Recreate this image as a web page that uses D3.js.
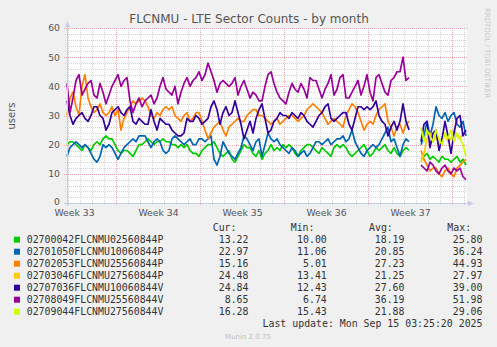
<!DOCTYPE html>
<html><head><meta charset="utf-8">
<script src="https://cdn.jsdelivr.net/npm/d3@7"></script>
<style>
html,body{margin:0;padding:0;background:#F0F0F0;}
svg{display:block;}
</style></head><body>
<svg id="chart" width="497" height="347"></svg>
<script>
// ---------- data ----------
const seriesNames = ["02700042FLCNMU02560844P","02701050FLCNMU10060844P","02702053FLCNMU25560844P","02703046FLCNMU27560844P","02707036FLCNMU10060844V","02708049FLCNMU25560844V","02709044FLCNMU27560844V"];
const seriesColors = ["#00CC00","#0066B3","#FF8000","#FFCC00","#330099","#990099","#CCFF00"];
const curValues = ["13.22","22.97","15.16","24.48","24.84","8.65","16.28"];
const minValues = ["10.00","11.06","5.01","13.41","12.43","6.74","15.43"];
const avgValues = ["18.19","20.85","27.23","21.25","27.60","36.19","21.88"];
const maxValues = ["25.80","36.24","44.93","27.97","39.00","51.98","29.06"];
const yTicks = [0,10,20,30,40,50,60];
const weekLabels = ["Week 33","Week 34","Week 35","Week 36","Week 37"];
const weekStarts = ["2025-08-11","2025-08-18","2025-08-25","2025-09-01","2025-09-08"];
const viewStart = "2025-08-13T22:00:00Z";
const viewEnd = "2025-09-16T06:00:00Z";
const stepHours = 6;          // sample spacing
const segBStartIndex = 118;   // first sample after the data gap

// first period (samples 0..114)
const greenA = [20,21,21,20,19,18,20,19,18,20, 21,20,22,23,22,22,20,18,17,18, 18,17,16,18,20,20,21,22,21,20, 21,21,22,21,21,20,20,19,20,19, 20,18,17,17,16,18,19,20,20,21, 19,17,16,17,18,15,14,16,18,20, 19,19,17,16,18,15,17,18,20,18, 19,18,20,19,20,19,17,16,18,19, 20,20,19,18,17,19,18,17,16,19, 20,19,20,19,17,16,17,18,19,20, 18,16,17,19,18,19,20,18,17,19, 17,16,18,19,18];
const blueA = [16,19,20,21,20,19,20,19,17,15, 14,16,20,19,20,19,17,15,17,19, 20,21,22,21,23,23,23,21,19,21, 22,21,18,17,18,22,23,22,21,20, 21,22,20,20,22,22,21,22,23,15, 13,16,21,19,17,16,15,17,19,23, 22,20,18,21,22,16,20,24,22,21, 22,20,19,18,17,19,18,16,17,18, 16,17,19,21,21,20,21,22,20,21, 22,22,23,21,22,25,21,19,17,16, 18,19,20,19,20,22,24,26,21,22, 19,16,20,22,21];
const orangeA = [30,36,38,33,30,40,44,36,33,31, 32,34,31,30,31,33,30,32,25,29, 31,33,35,34,35,36,35,33,30,29, 31,30,32,33,32,33,30,29,28,30, 31,28,29,31,31,28,25,22,24,26, 27,28,25,23,26,27,28,29,28,28, 30,31,32,32,30,30,29,28,27,28, 29,27,28,29,30,30,29,28,29,30, 32,33,34,33,32,31,29,27,28,29, 28,27,26,30,32,34,33,31,28,25, 27,28,27,30,32,33,34,28,26,23, 26,27,24,27,28];
const yellowA = [];
const indigoA = [35,30,27,29,30,31,29,28,30,33, 33,30,29,25,27,31,32,33,31,30, 32,33,28,27,29,28,27,27,32,28, 25,29,28,27,27,25,24,23,23,24, 29,28,28,30,29,27,28,29,33,35, 32,27,31,33,30,31,35,31,27,22, 25,28,24,29,32,34,29,24,25,28, 29,31,30,30,29,31,30,29,31,30, 28,27,26,28,30,31,33,34,29,28, 29,30,31,31,27,25,29,33,33,32, 33,32,33,35,30,28,27,23,26,28, 25,28,34,28,25];
const purpleA = [41,31,36,42,44,37,39,41,42,37, 36,41,38,34,37,40,42,44,40,42, 43,35,31,34,36,33,35,36,37,34, 36,40,43,39,38,37,40,34,38,41, 43,40,42,43,45,42,44,48,45,42, 38,41,42,41,40,41,43,37,40,42, 39,36,38,37,35,35,40,44,45,41, 38,36,35,34,38,41,39,38,41,39, 36,43,42,42,39,36,39,41,44,37, 39,43,44,36,36,38,40,42,37,40, 44,38,35,43,44,41,38,37,42,43, 45,45,50,42,43];
const limeA = [];

// second period (after the gap)
const greenB  = [15,16,17,15,16,15,14,16,15,15,14,15,16,14,15,13];
const blueB   = [20,23,28,23,27,33,30,29,31,28,30,31,27,26,28,23];
const orangeB = [18,15,13,11,12,12,10,9,11,12,10,9,12,13,14,15];
const yellowB = [14,17,22,24,21,23,20,22,24,21,22,25,23,22,24,24];
const indigoB = [21,27,28,19,24,25,18,22,28,23,17,24,29,30,23,25];
const purpleB = [13,12,11,14,13,11,10,12,13,11,10,12,11,12,9,8];
const limeB   = [26,21,25,23,21,25,22,20,24,22,25,21,24,22,20,16];

const periodA = [greenA, blueA, orangeA, yellowA, indigoA, purpleA, limeA];
const periodB = [greenB, blueB, orangeB, yellowB, indigoB, purpleB, limeB];

// ---------- drawing ----------
const svg = d3.select("#chart");
const plot = {left:67, top:28, right:467, bottom:203};
const t0 = new Date(viewStart);
const x = d3.scaleUtc().domain([t0, new Date(viewEnd)]).range([plot.left, plot.right]);
const y = d3.scaleLinear().domain([0,60]).range([plot.bottom, plot.top]);
const sampleTime = i => new Date(+t0 + i*stepHours*3600*1000);

svg.append("rect").attr("width",497).attr("height",347).attr("fill","#F0F0F0");
svg.append("rect").attr("x",plot.left).attr("y",plot.top)
  .attr("width",plot.right-plot.left).attr("height",plot.bottom-plot.top).attr("fill","#FFFFFF");

const grid = svg.append("g").attr("shape-rendering","crispEdges");
const minorCol = "#d4d4d4", majorCol = "#eeaaaa";
// minor vertical grid (days)
const days = d3.utcDay.range(x.domain()[0], x.domain()[1]);
const mondays = d3.utcMonday.range(x.domain()[0], x.domain()[1]);
const mondaySet = new Set(mondays.map(d=>+d));
grid.selectAll(".vmin").data(days.filter(d=>!mondaySet.has(+d))).join("line")
  .attr("x1",d=>Math.round(x(d))+0.5).attr("x2",d=>Math.round(x(d))+0.5)
  .attr("y1",plot.top).attr("y2",plot.bottom+2)
  .attr("stroke",minorCol).attr("stroke-dasharray","1,1");
// minor horizontal grid
const minorY = d3.range(2,60,2).filter(v=>v%10!==0);
grid.selectAll(".hmin").data(minorY).join("line")
  .attr("x1",plot.left-2).attr("x2",plot.right)
  .attr("y1",d=>Math.round(y(d))+0.5).attr("y2",d=>Math.round(y(d))+0.5)
  .attr("stroke",minorCol).attr("stroke-dasharray","1,1");
// major grid
grid.selectAll(".vmaj").data(mondays).join("line")
  .attr("x1",d=>Math.round(x(d))+0.5).attr("x2",d=>Math.round(x(d))+0.5)
  .attr("y1",plot.top).attr("y2",plot.bottom+3)
  .attr("stroke",majorCol).attr("stroke-dasharray","1,1");
grid.selectAll(".hmaj").data(yTicks.filter(v=>v>0)).join("line")
  .attr("x1",plot.left-3).attr("x2",plot.right)
  .attr("y1",d=>Math.round(y(d))+0.5).attr("y2",d=>Math.round(y(d))+0.5)
  .attr("stroke",majorCol).attr("stroke-dasharray","1,1");

// series lines
const line = d3.line().defined(d=>d.v!=null).x(d=>x(d.t)).y(d=>y(d.v));
seriesNames.forEach((name,k)=>{
  const pts = [];
  periodA[k].forEach((v,i)=>pts.push({t:sampleTime(i), v}));
  pts.push({t:sampleTime(periodA[k].length), v:null});
  periodB[k].forEach((v,i)=>pts.push({t:sampleTime(segBStartIndex+i), v}));
  svg.append("path").datum(pts).attr("d",line)
    .attr("fill","none").attr("stroke",seriesColors[k])
    .attr("stroke-width",1.7).attr("stroke-linejoin","round");
});

// axes (rrdtool style with arrows)
const axisCol = "#c6cdec";
const yAxis = d3.axisLeft(y).tickValues(yTicks).tickSize(0).tickPadding(7);
const gy = svg.append("g").attr("transform",`translate(${plot.left},0)`).call(yAxis);
gy.select(".domain").remove();
gy.selectAll("text").attr("font-family","DejaVu Sans").attr("font-size","9.3px").attr("fill","#555")
  .attr("dy",d=>d===0?"0.2em":"0.32em");

const weekMid = weekStarts.map(s=>new Date(+new Date(s+"T00:00:00Z") + 3.5*86400000));
const xAxis = d3.axisBottom(x).tickValues(weekMid).tickFormat((d,i)=>weekLabels[i]).tickSize(0).tickPadding(6);
const gx = svg.append("g").attr("transform",`translate(0,${plot.bottom})`).call(xAxis);
gx.select(".domain").remove();
gx.selectAll("text").attr("font-family","DejaVu Sans").attr("font-size","9.3px").attr("fill","#555")
  .attr("dy","0.78em");

svg.append("line").attr("x1",plot.left+0.5).attr("x2",plot.left+0.5).attr("y1",plot.bottom+3).attr("y2",plot.top-4)
  .attr("stroke",axisCol).attr("shape-rendering","crispEdges");
svg.append("path").attr("d",`M${plot.left-2},${plot.top-1}L${plot.left+3},${plot.top-1}L${plot.left+0.5},${plot.top-7}Z`).attr("fill",axisCol);
svg.append("line").attr("x1",plot.left-3).attr("x2",plot.right+3).attr("y1",plot.bottom+0.5).attr("y2",plot.bottom+0.5)
  .attr("stroke",axisCol).attr("shape-rendering","crispEdges");
svg.append("path").attr("d",`M${plot.right+1},${plot.bottom-2}L${plot.right+1},${plot.bottom+3}L${plot.right+7},${plot.bottom+0.5}Z`).attr("fill",axisCol);

// title and labels
svg.append("text").attr("x",249).attr("y",23).attr("text-anchor","middle")
  .attr("font-family","DejaVu Sans").attr("font-size","12px").attr("fill","#555")
  .text("FLCNMU - LTE Sector Counts - by month");
svg.append("text").attr("transform","translate(15,116) rotate(-90)").attr("text-anchor","middle")
  .attr("font-family","DejaVu Sans").attr("font-size","10px").attr("fill","#555").text("users");
svg.append("text").attr("transform","translate(485,53) rotate(90)").attr("text-anchor","middle")
  .attr("font-family","DejaVu Sans").attr("font-size","7px").attr("fill","#c8c8c8").text("RRDTOOL / TOBI OETIKER");

// legend
const mono = "DejaVu Sans Mono";
const lg = svg.append("g").attr("font-family",mono).attr("font-size","9.9px").attr("fill","#333");
const headerY = 231;
[["Cur:",212.7],["Min:",290.7],["Avg:",369],["Max:",447.3]].forEach(([t,px])=>{
  lg.append("text").attr("x",px).attr("y",headerY).text(t);
});
const cols = [[curValues,248.5],[minValues,326.8],[avgValues,404.5],[maxValues,482.5]];
seriesNames.forEach((name,k)=>{
  const cy = 239.7 + k*12;
  svg.append("rect").attr("x",14).attr("y",cy-3).attr("width",6).attr("height",6).attr("fill",seriesColors[k]);
  lg.append("text").attr("x",26.7).attr("y",cy+3.5).text(name);
  cols.forEach(([arr,px])=>{
    lg.append("text").attr("x",px).attr("y",cy+3.5).attr("text-anchor","end").text(arr[k]);
  });
});
lg.append("text").attr("x",482.5).attr("y",326.5).attr("text-anchor","end").text("Last update: Mon Sep 15 03:25:20 2025");
svg.append("text").attr("x",248).attr("y",339).attr("text-anchor","middle")
  .attr("font-family","DejaVu Sans").attr("font-size","7px").attr("fill","#c0c0c0").text("Munin 2.0.75");
</script>
</body></html>
